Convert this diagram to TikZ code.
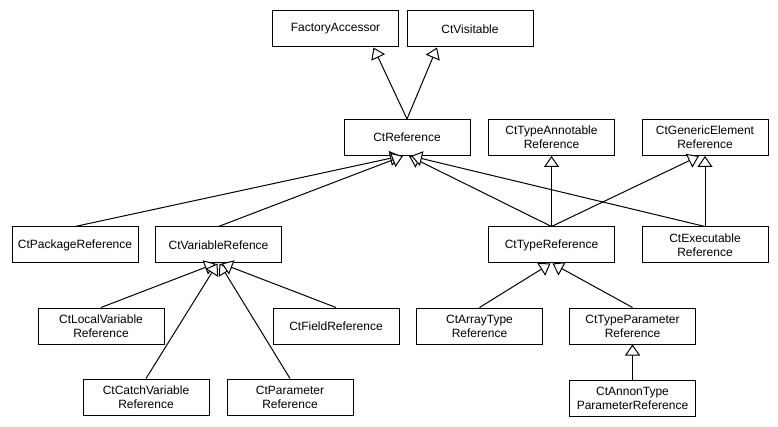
\documentclass[tikz,border=0pt]{standalone}
\usepackage{fontspec}
\setmainfont{Liberation Sans}
\usetikzlibrary{arrows.meta}
\begin{document}
\begin{tikzpicture}[x=1pt,y=-1pt,
  cls/.style={draw,line width=1pt,minimum width=126pt,minimum height=36pt,inner sep=0pt,align=center,font=\fontsize{12}{14}\selectfont,fill=white},
  inh/.style={line width=1pt,-{Triangle[length=11pt,width=15pt,fill=white]}}]
\useasboundingbox (0,0) rectangle (778,427);
\node[cls] (fa) at (335.5,29) {FactoryAccessor};
\node[cls] (vis) at (470,29) {CtVisitable};
\node[cls] (ref) at (407,137.5) {CtReference};
\node[cls] (ta) at (551.5,137.5) {CtTypeAnnotable\\Reference};
\node[cls] (gen) at (705,137.5) {CtGenericElement\\Reference};
\node[cls] (pkg) at (75,245) {CtPackageReference};
\node[cls] (var) at (218.5,245) {CtVariableRefence};
\node[cls] (type) at (551.5,245) {CtTypeReference};
\node[cls] (exec) at (705,245) {CtExecutable\\Reference};
\node[cls] (loc) at (101,326) {CtLocalVariable\\Reference};
\node[cls] (fld) at (336,326) {CtFieldReference};
\node[cls] (arr) at (479.5,326) {CtArrayType\\Reference};
\node[cls] (tp) at (632.5,326) {CtTypeParameter\\Reference};
\node[cls] (cat) at (146,397) {CtCatchVariable\\Reference};
\node[cls] (par) at (290,397) {CtParameter\\Reference};
\node[cls] (ann) at (632.5,398) {CtAnnonType\\ParameterReference};
% inheritance
\draw[inh] (ref.north) -- ([xshift=38pt]fa.south);
\draw[inh] (ref.north) -- ([xshift=-33pt]vis.south);
\draw[inh] (pkg.north) -- ([xshift=-6pt]ref.south);
\draw[inh] (var.north) -- ([xshift=-4pt]ref.south);
\draw[inh] (type.north) -- ([xshift=2pt]ref.south);
\draw[inh] (exec.north) -- ([xshift=4pt]ref.south);
\draw[inh] (type.north) -- (ta.south);
\draw[inh] (type.north) -- ([xshift=-6pt]gen.south);
\draw[inh] (exec.north) -- (gen.south);
\draw[inh] (loc.north) -- ([xshift=-3pt]var.south);
\draw[inh] (cat.north) -- ([xshift=-1pt]var.south);
\draw[inh] (par.north) -- ([xshift=1pt]var.south);
\draw[inh] (fld.north) -- ([xshift=3pt]var.south);
\draw[inh] (arr.north) -- ([xshift=-1pt]type.south);
\draw[inh] (tp.north) -- ([xshift=1pt]type.south);
\draw[inh] (ann.north) -- (tp.south);
\end{tikzpicture}
\end{document}
